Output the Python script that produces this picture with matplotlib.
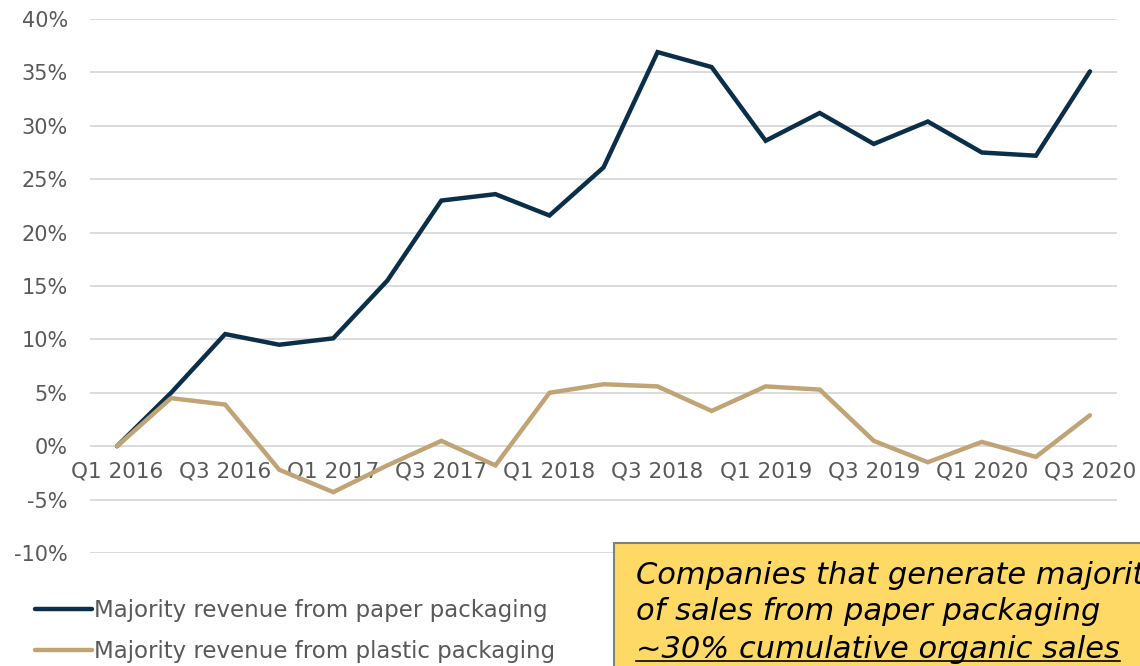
import matplotlib
matplotlib.use("Agg")
import matplotlib.pyplot as plt
from matplotlib.patches import Rectangle
from matplotlib.lines import Line2D
from matplotlib.ticker import FuncFormatter

quarters = [
    "Q1 2016", "Q2 2016", "Q3 2016", "Q4 2016",
    "Q1 2017", "Q2 2017", "Q3 2017", "Q4 2017",
    "Q1 2018", "Q2 2018", "Q3 2018", "Q4 2018",
    "Q1 2019", "Q2 2019", "Q3 2019", "Q4 2019",
    "Q1 2020", "Q2 2020", "Q3 2020",
]
paper = [0.0, 5.0, 10.5, 9.5, 10.1, 15.5, 23.0, 23.6, 21.6, 26.1,
         36.9, 35.5, 28.6, 31.2, 28.3, 30.4, 27.5, 27.2, 35.1]
plastic = [0.0, 4.5, 3.9, -2.2, -4.3, -1.8, 0.5, -1.8, 5.0, 5.8,
           5.6, 3.3, 5.6, 5.3, 0.5, -1.5, 0.4, -1.0, 2.9]
yticks = [-10, -5, 0, 5, 10, 15, 20, 25, 30, 35, 40]

paper_label = "Majority revenue from paper packaging"
plastic_label = "Majority revenue from plastic packaging"
note_lines = [
    "Companies that generate majority",
    "of sales from paper packaging",
    "~30% cumulative organic sales",
]

NAVY = "#0B2F48"
TAN = "#C0A476"
GREY = "#595959"

plt.rcParams["font.family"] = ["DejaVu Sans"]

fig = plt.figure(figsize=(11.4, 6.66), dpi=100)
ax = fig.add_axes([90 / 1140, 1 - 553 / 666, (1117 - 90) / 1140, (553 - 19) / 666])

x = list(range(len(quarters)))
ax.plot(x, paper, color=NAVY, lw=3.2, solid_capstyle="round", solid_joinstyle="miter",
        label=paper_label, zorder=3)
ax.plot(x, plastic, color=TAN, lw=3.2, solid_capstyle="round", solid_joinstyle="miter",
        label=plastic_label, zorder=3)

ax.set_xlim(-0.5, len(quarters) - 0.5)
ax.set_ylim(-10, 40)
ax.set_yticks(yticks)
ax.yaxis.set_major_formatter(FuncFormatter(lambda v, p: f"{v:.0f}%"))
ax.set_xticks(x[::2])
ax.set_xticklabels(quarters[::2])

ax.grid(axis="y", color="#D9D9D9", lw=1.3, zorder=0)
ax.set_axisbelow(True)
for s in ax.spines.values():
    s.set_visible(False)
ax.spines["bottom"].set_position(("data", 0))

ax.tick_params(axis="y", length=0, pad=16, labelsize=15, labelcolor=GREY)
ax.tick_params(axis="x", length=0, pad=11, labelsize=15.5, labelcolor=GREY)

fig.legend(loc="center left", bbox_to_anchor=(35 / 1140, 1 - 631 / 666), frameon=False,
           fontsize=16.5, labelcolor=GREY, handlelength=2.5, handletextpad=0.08,
           labelspacing=0.75, borderpad=0, borderaxespad=0)

# yellow note box, running off the bottom-right corner
box = Rectangle((614 / 1140, -0.1), 0.6, (666 - 543) / 666 + 0.1,
                transform=fig.transFigure, facecolor="#FFD966",
                edgecolor="#808080", lw=1.5, zorder=5)
fig.patches.append(box)

ys = [575, 612, 649]
texts = []
for line, yy in zip(note_lines, ys):
    t = fig.text(636 / 1140, 1 - yy / 666, line, fontsize=22, style="italic",
                 color="black", va="center", ha="left", zorder=6)
    texts.append(t)

fig.canvas.draw()
bb = texts[-1].get_window_extent().transformed(fig.transFigure.inverted())
fig.lines.append(Line2D([bb.x0, bb.x1], [bb.y0 + 0.004, bb.y0 + 0.004],
                        transform=fig.transFigure, color="black", lw=1.2, zorder=6))

fig.savefig("out.png", dpi=100)
